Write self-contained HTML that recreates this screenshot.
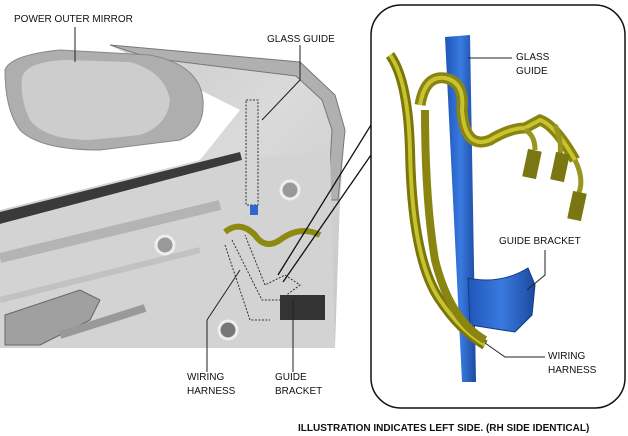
<!DOCTYPE html>
<html><head><style>
html,body{margin:0;padding:0;background:#fff;}
body{width:628px;height:435px;overflow:hidden;position:relative;font-family:"Liberation Sans",sans-serif;}
.t{position:absolute;font-size:10px;color:#111;line-height:14px;}
</style></head><body>
<svg width="628" height="435" style="position:absolute;left:0;top:0">
<defs>
<linearGradient id="door" x1="0" y1="0" x2="1" y2="1">
<stop offset="0" stop-color="#c4c4c4"/><stop offset="0.5" stop-color="#dadada"/><stop offset="1" stop-color="#c6c6c6"/></linearGradient>
<linearGradient id="blue" x1="0" y1="0" x2="1" y2="0"><stop offset="0" stop-color="#1f55b8"/><stop offset="0.5" stop-color="#3a7ae0"/><stop offset="1" stop-color="#1c4aa0"/></linearGradient>
</defs>
<!-- door -->
<path d="M110 45 L300 62 L335 95 L345 130 L340 200 L335 348 L0 348 L0 210 L200 160 L240 110 Z" fill="url(#door)"/>
<path d="M110 45 L300 62 L335 95 L345 130 L338 200 L328 200 L332 130 L322 100 L296 76 L150 58 Z" fill="#b0b0b0" stroke="#777" stroke-width="1"/>
<path d="M0 212 L240 152 L242 160 L0 224 Z" fill="#3a3a3a"/>
<path d="M0 224 L242 160 L330 150 L335 348 L0 348 Z" fill="#d3d3d3"/>
<path d="M0 258 L220 205" stroke="#b4b4b4" stroke-width="10" fill="none"/>
<path d="M0 300 L200 250" stroke="#c2c2c2" stroke-width="6" fill="none"/>
<circle cx="165" cy="245" r="9" fill="#999" stroke="#eee" stroke-width="3"/>
<circle cx="290" cy="190" r="9" fill="#999" stroke="#eee" stroke-width="3"/>
<circle cx="228" cy="330" r="9" fill="#777" stroke="#eee" stroke-width="3"/>
<!-- handle -->
<path d="M5 315 L80 290 L100 300 L90 320 L40 345 L5 345 Z" fill="#a0a0a0" stroke="#666"/>
<path d="M60 335 L145 308" stroke="#999" stroke-width="8"/>
<!-- mirror -->
<path d="M5 70 Q10 55 60 50 L150 55 Q200 65 203 100 Q205 130 180 140 L100 150 Q40 150 20 130 Q5 110 5 70 Z" fill="#aeaeae" stroke="#888"/>
<path d="M22 78 Q25 62 65 60 L130 62 Q165 72 170 100 Q168 125 140 135 L90 140 Q45 140 30 120 Q20 100 22 78 Z" fill="#cdcdcd"/>
<!-- glass guide -->
<rect x="246" y="100" width="12" height="105" fill="#d5d5d5" stroke="#333" stroke-dasharray="2,1.5"/>
<rect x="250" y="205" width="8" height="10" fill="#2f66d0"/>
<path d="M225 232 Q240 220 255 235 Q265 250 280 240 Q300 225 320 235" stroke="#8c8a10" stroke-width="6" fill="none"/>
<path d="M232 240 L262 300 L280 300 L300 285 L285 275 L265 285 L245 235" fill="none" stroke="#333" stroke-dasharray="2,1.5"/>
<path d="M225 245 L250 320 L270 320" fill="none" stroke="#333" stroke-dasharray="2,1.5"/>
<rect x="280" y="295" width="45" height="25" fill="#333"/>
<!-- leader lines -->
<line x1="75" y1="27" x2="75" y2="62" stroke="#222"/>
<polyline points="300,45 300,80 262,120" fill="none" stroke="#222"/>
<line x1="207" y1="372" x2="207" y2="320" stroke="#222"/><line x1="207" y1="320" x2="240" y2="270" stroke="#222"/>
<line x1="293" y1="372" x2="293" y2="300" stroke="#222"/>
<line x1="278" y1="275" x2="371" y2="125" stroke="#111" stroke-width="1.3"/>
<line x1="283" y1="282" x2="371" y2="155" stroke="#111" stroke-width="1.3"/>
<!-- right panel -->
<rect x="371" y="5" width="254" height="403" rx="30" fill="#fff" stroke="#111" stroke-width="1.5"/>
<path d="M445 37 L470 35 L476 382 L462 382 Z" fill="url(#blue)"/>
<path d="M468 278 Q500 285 528 268 L535 285 L532 315 L515 332 L470 325 Z" fill="url(#blue)" stroke="#163a80"/>
<path d="M390 55 Q408 80 410 150 Q412 260 440 300 Q460 330 485 345" stroke="#7a7608" stroke-width="10" fill="none"/>
<path d="M390 55 Q408 80 410 150 Q412 260 440 300 Q460 330 485 345" stroke="#c6c230" stroke-width="4" fill="none"/>
<path d="M425 110 Q425 200 435 260 Q450 320 485 340" stroke="#8a8510" stroke-width="8" fill="none"/>
<path d="M420 105 Q425 75 445 78 Q465 82 462 110 Q465 150 490 140 Q510 128 525 128 L540 120 Q555 125 575 160" stroke="#8a8510" stroke-width="11" fill="none"/>
<path d="M420 105 Q425 75 445 78 Q465 82 462 110 Q465 150 490 140 Q510 128 525 128 L540 120 Q555 125 575 160" stroke="#c8c430" stroke-width="4" fill="none"/>
<path d="M525 130 Q535 135 535 150 M555 125 Q562 140 560 155 M575 160 Q585 180 578 195" stroke="#9a9520" stroke-width="5" fill="none"/>
<rect x="525" y="150" width="14" height="28" fill="#7a7612" transform="rotate(12 532 164)"/>
<rect x="553" y="153" width="14" height="28" fill="#7a7612" transform="rotate(12 560 167)"/>
<rect x="570" y="192" width="14" height="28" fill="#7a7612" transform="rotate(12 577 206)"/>
<line x1="512" y1="58" x2="468" y2="58" stroke="#222"/>
<polyline points="545,250 545,275 527,290" fill="none" stroke="#222"/>
<polyline points="545,357 505,357 485,343" fill="none" stroke="#222"/>
</svg>
<div class="t" style="left:14px;top:13px">POWER OUTER MIRROR</div>
<div class="t" style="left:267px;top:33px">GLASS GUIDE</div>
<div class="t" style="left:187px;top:371px">WIRING<br>HARNESS</div>
<div class="t" style="left:275px;top:371px">GUIDE<br>BRACKET</div>
<div class="t" style="left:516px;top:51px">GLASS<br>GUIDE</div>
<div class="t" style="left:499px;top:235px">GUIDE BRACKET</div>
<div class="t" style="left:548px;top:350px">WIRING<br>HARNESS</div>
<div class="t" style="left:298px;top:422px;font-weight:bold;font-size:10px">ILLUSTRATION INDICATES LEFT SIDE. (RH SIDE IDENTICAL)</div>
</body></html>
